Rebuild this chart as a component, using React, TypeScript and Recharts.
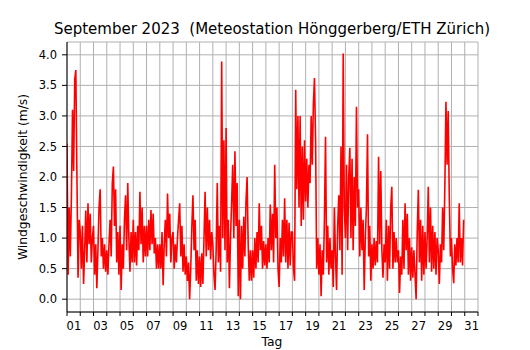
import React from 'react';
import { LineChart, Line, XAxis, YAxis, CartesianGrid } from 'recharts';

// Wind speed (m/s), 12 readings per day (2-hour steps)
const day1 = [2.55, 0.4, 1.5, 0.7, 1.7, 3.1, 2.1, 3.6, 3.75, 2.0, 0.35, 1.3];
const day2 = [1.1, 0.5, 1.2, 0.25, 0.8, 1.45, 0.6, 1.57, 0.9, 1.4, 0.6, 1.0];
const day3 = [1.2, 0.4, 0.9, 0.18, 0.8, 1.5, 1.8, 0.7, 1.0, 0.5, 0.9, 0.45];
const day4 = [0.8, 0.4, 0.9, 1.3, 0.7, 1.9, 2.17, 1.2, 1.8, 0.6, 1.1, 0.4];
const day5 = [1.2, 0.15, 0.9, 0.5, 1.3, 1.7, 0.8, 1.9, 1.0, 0.45, 1.1, 0.6];
const day6 = [1.3, 0.6, 1.1, 0.55, 1.2, 0.8, 1.76, 0.9, 1.5, 0.6, 1.2, 0.7];
const day7 = [1.2, 0.7, 1.3, 0.8, 1.46, 0.9, 1.4, 0.75, 1.0, 0.5, 0.9, 0.5];
const day8 = [0.9, 0.5, 1.1, 0.23, 0.9, 1.3, 0.7, 1.73, 1.0, 1.4, 0.6, 1.0];
const day9 = [1.1, 0.5, 0.9, 0.6, 1.0, 1.3, 1.57, 0.7, 1.2, 0.45, 0.9, 0.4];
const day10 = [0.7, 0.3, 0.6, 0.0, 0.5, 1.2, 1.7, 0.8, 1.3, 0.3, 0.8, 0.25];
const day11 = [0.7, 0.2, 0.75, 0.25, 1.0, 1.76, 0.7, 1.5, 0.8, 1.3, 0.65, 1.1];
const day12 = [0.9, 0.4, 0.15, 0.8, 1.9, 0.6, 1.2, 0.45, 3.89, 1.0, 2.6, 0.8];
const day13 = [2.8, 0.6, 1.3, 0.18, 1.0, 1.6, 2.2, 1.0, 2.42, 1.2, 1.9, 0.05];
const day14 = [1.3, 0.0, 1.2, 0.5, 1.35, 0.7, 1.6, 2.0, 0.9, 0.3, 0.8, 0.3];
const day15 = [0.8, 0.35, 1.0, 0.5, 1.1, 0.6, 1.57, 0.8, 1.2, 0.5, 0.95, 0.55];
const day16 = [0.9, 0.5, 1.0, 0.6, 1.55, 0.8, 1.4, 0.6, 2.2, 1.0, 1.5, 0.5];
const day17 = [0.2, 1.0, 0.6, 1.3, 0.7, 1.65, 0.6, 1.3, 0.5, 1.25, 0.55, 1.1];
const day18 = [1.1, 0.5, 0.3, 3.43, 1.8, 3.0, 1.5, 3.0, 1.2, 2.5, 1.3, 2.6];
const day19 = [1.6, 2.3, 1.5, 2.2, 1.9, 3.0, 2.2, 3.2, 3.62, 2.6, 0.5, 1.0];
const day20 = [0.4, 0.9, 0.05, 0.8, 0.4, 1.3, 2.66, 0.6, 1.2, 0.4, 1.0, 0.5];
const day21 = [0.8, 0.2, 1.5, 0.7, 0.15, 1.2, 1.7, 0.8, 2.5, 0.4, 4.02, 1.5];
const day22 = [1.0, 2.2, 0.8, 2.0, 2.48, 1.0, 2.3, 0.8, 2.0, 1.2, 3.15, 1.5];
const day23 = [1.8, 0.7, 1.5, 0.8, 1.3, 0.15, 1.0, 1.5, 2.7, 0.7, 1.2, 0.3];
const day24 = [0.9, 0.5, 1.0, 0.55, 0.95, 0.6, 2.33, 0.9, 2.1, 0.8, 0.35, 0.9];
const day25 = [0.6, 1.3, 0.3, 1.2, 0.5, 1.5, 1.84, 0.5, 1.1, 0.6, 1.0, 0.6];
const day26 = [0.8, 0.1, 0.7, 0.4, 1.3, 0.5, 1.57, 0.8, 1.4, 0.4, 1.0, 0.3];
const day27 = [0.85, 0.35, 0.8, 0.4, 0.0, 1.1, 1.79, 0.6, 1.3, 0.3, 1.2, 0.4];
const day28 = [1.1, 0.5, 1.0, 1.84, 0.6, 1.5, 0.45, 1.2, 0.5, 1.1, 0.4, 1.0];
const day29 = [0.8, 0.25, 0.9, 0.6, 1.5, 0.8, 1.85, 3.23, 2.2, 3.08, 1.7, 0.7];
const day30 = [1.0, 0.5, 0.26, 0.9, 0.55, 1.0, 0.6, 1.57, 0.6, 1.0, 0.55, 1.3];

const days = [
  day1, day2, day3, day4, day5, day6, day7, day8, day9, day10,
  day11, day12, day13, day14, day15, day16, day17, day18, day19, day20,
  day21, day22, day23, day24, day25, day26, day27, day28, day29, day30,
];
const SAMPLES_PER_DAY = 12;

const xTicks = [0, 1, 2, 3, 4, 5, 6, 7, 8, 9, 10, 11, 12, 13, 14, 15, 16, 17, 18, 19, 20, 21, 22, 23, 24, 25, 26, 27, 28, 29, 30, 31];
const xTickLabels = ['', '01', '', '03', '', '05', '', '07', '', '09', '', '11', '', '13', '', '15', '', '17', '', '19', '', '21', '', '23', '', '25', '', '27', '', '29', '', '31'];
const yTicks = [0, 0.5, 1, 1.5, 2, 2.5, 3, 3.5, 4];

const data = days.flatMap((vals, d) => vals.map((v, i) => ({ t: d + i / SAMPLES_PER_DAY, v })));

const FONT = 'DejaVu Sans';

const XTick = (props: any) => {
  const { x, y, payload } = props;
  const label = xTickLabels[Math.round(payload.value)] || '';
  return (
    <text x={x + 1} y={y} dy="0.71em" textAnchor="end" fontFamily={FONT} fontSize={11.5} fill="#000">
      {label}
    </text>
  );
};

export default function App() {
  return (
    <div style={{ position: 'absolute', left: 0, top: 0, width: 530, height: 350, background: '#fff' }}>
      <LineChart width={530} height={350} data={data} margin={{ top: 42, right: 52, bottom: 0, left: 0 }}>
        <CartesianGrid stroke="#b0b0b0" strokeWidth={1} />
        <XAxis
          dataKey="t"
          type="number"
          domain={[0, 31]}
          ticks={xTicks}
          interval={0}
          allowDataOverflow
          height={38}
          tickSize={4}
          tickMargin={6}
          tick={<XTick />}
          axisLine={{ stroke: '#000' }}
          tickLine={{ stroke: '#000' }}
        />
        <XAxis
          xAxisId="top"
          orientation="top"
          dataKey="t"
          type="number"
          domain={[0, 31]}
          height={0}
          tick={false}
          tickLine={false}
          axisLine={{ stroke: '#000' }}
        />
        <YAxis
          type="number"
          domain={[-0.21, 4.21]}
          ticks={yTicks}
          allowDataOverflow
          width={67}
          tickSize={5}
          tickMargin={5}
          tickFormatter={(v: number) => v.toFixed(1)}
          tick={{ fontFamily: FONT, fontSize: 11.5, fill: '#000' }}
          axisLine={{ stroke: '#000' }}
          tickLine={{ stroke: '#000' }}
        />
        <YAxis
          yAxisId="right"
          orientation="right"
          type="number"
          domain={[-0.21, 4.21]}
          width={0}
          tick={false}
          tickLine={false}
          axisLine={{ stroke: '#000' }}
        />
        <Line
          dataKey="v"
          type="linear"
          stroke="#ff0000"
          strokeWidth={1.6}
          dot={false}
          isAnimationActive={false}
        />
      </LineChart>
      <svg width={530} height={350} style={{ position: 'absolute', left: 0, top: 0, pointerEvents: 'none' }}>
        <text x={272} y={34} textAnchor="middle" fontFamily={FONT} fontSize={15} fill="#000" style={{ whiteSpace: 'pre' }}>
          {'September 2023  (Meteostation Hönggerberg/ETH Zürich)'}
        </text>
        <text transform="translate(27,177) rotate(-90)" textAnchor="middle" fontFamily={FONT} fontSize={12.3} fill="#000">
          Windgeschwindigkeit (m/s)
        </text>
        <text x={272} y={346} textAnchor="middle" fontFamily={FONT} fontSize={12.3} fill="#000">
          Tag
        </text>
      </svg>
    </div>
  );
}
